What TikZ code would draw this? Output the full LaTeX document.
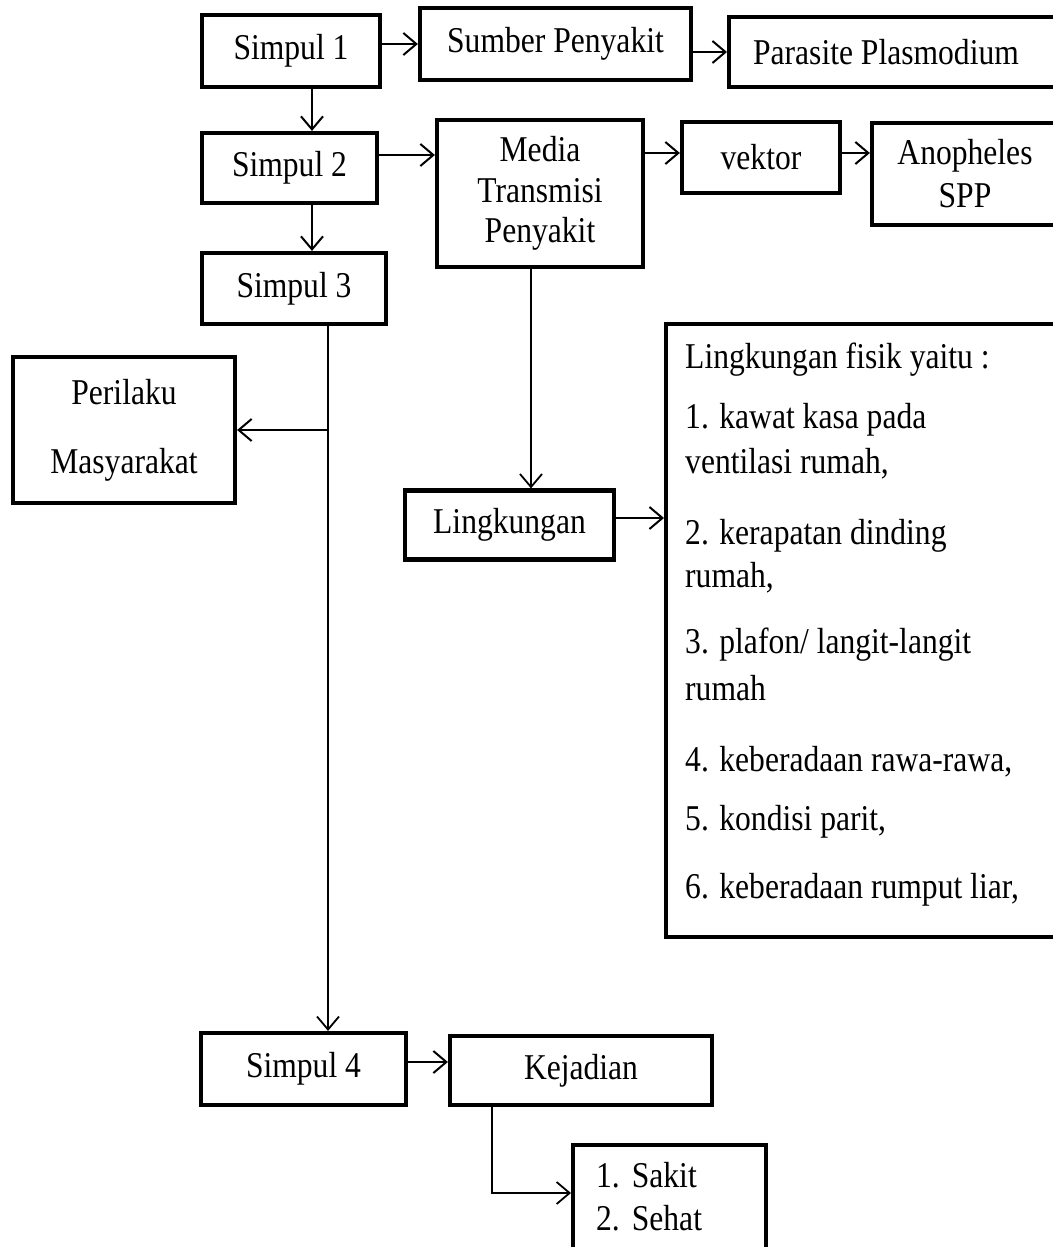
\documentclass[tikz,border=0pt]{standalone}
\usepackage{fontspec}
\setmainfont{Liberation Serif}[FakeStretch=0.87]
\usetikzlibrary{arrows.meta}
\begin{document}
\begin{tikzpicture}[x=1pt,y=-1pt,
  every node/.style={font=\fontsize{36.3pt}{40.5pt}\selectfont, inner sep=0pt},
  box/.style={draw, line width=4.2pt, align=center},
  arr/.style={line width=2pt, -{Straight Barb[length=13pt,width=22pt,line width=2pt]}},
  plain/.style={line width=1.8pt, -{Straight Barb[length=13pt,width=22pt,line width=1.8pt]}}]
\useasboundingbox (0,0) rectangle (1052,1247);
\fill[white] (0,0) rectangle (1052,1247);
% boxes
\node[box, minimum width=178pt, minimum height=72pt] (s1) at (291,51) {Simpul 1};
\node[box, minimum width=271pt, minimum height=72pt] (sumber) at (555.5,44) {Sumber Penyakit};
\node[box, anchor=west, minimum height=70pt] (parasite) at (727,52) {\hspace*{24pt}Parasite Plasmodium\hspace*{42pt}};
\node[box, minimum width=175pt, minimum height=70pt] (s2) at (289.5,168) {Simpul 2};
\node[box, minimum width=206pt, minimum height=147pt] (media) at (540,193.5) {Media\\Transmisi\\Penyakit};
\node[box, minimum width=158pt, minimum height=71pt] (vektor) at (761,157.5) {vektor};
\node[box, minimum width=186pt, minimum height=102pt] (anoph) at (965,174) {Anopheles\\[2.5pt]SPP};
\node[box, minimum width=184pt, minimum height=71pt] (s3) at (294,288.5) {Simpul 3};
\node[box, minimum width=222pt, minimum height=146pt] (perilaku) at (124,430) {Perilaku\\[28.5pt]Masyarakat};
\node[box, minimum width=209pt, minimum height=69pt] (lingk) at (509.5,525) {Lingkungan};
\node[box, anchor=north west, minimum width=396pt, minimum height=613pt] (fisik) at (664,322) {};
\node[box, minimum width=205pt, minimum height=72pt] (s4) at (303.5,1069) {Simpul 4};
\node[box, minimum width=262pt, minimum height=69pt] (kej) at (581,1070.5) {Kejadian};
\node[box, anchor=north west, minimum width=193pt, minimum height=125pt] (sakit) at (571,1143) {};
% texts in the large box
\begin{scope}[every node/.append style={anchor=west}]
\node (f0) at (685,360) {Lingkungan fisik yaitu :};
\node (f1) at (685,420) {1. kawat kasa pada};
\node (f1b) at (685,464) {ventilasi rumah,};
\node (f2) at (685,536) {2. kerapatan dinding};
\node (f2b) at (685,578) {rumah,};
\node (f3) at (685,645) {3. plafon/ langit-langit};
\node (f3b) at (685,688) {rumah};
\node (f4) at (685,762) {4. keberadaan rawa-rawa,};
\node (f5) at (685,822) {5. kondisi parit,};
\node (f6) at (685,890) {6. keberadaan rumput liar,};
\node (k1) at (596,1175) {1.\hspace{12pt}Sakit};
\node (k2) at (596,1218) {2.\hspace{12pt}Sehat};
\end{scope}
% connectors
\draw[arr] (s1.east |- 0,44) -- (sumber.west |- 0,44);
\draw[arr] (sumber.east |- 0,52) -- (parasite.west |- 0,52);
\draw[arr] (s1.south -| 312,0) -- (s2.north -| 312,0);
\draw[arr] (s2.east |- 0,155) -- (media.west |- 0,155);
\draw[arr] (media.east |- 0,153) -- (vektor.west |- 0,153);
\draw[arr] (vektor.east |- 0,153) -- (anoph.west |- 0,153);
\draw[arr] (s2.south -| 312,0) -- (s3.north -| 312,0);
\draw[plain] (s3.south -| 328,0) -- (s4.north -| 328,0);
\coordinate (br) at (328,430);
\draw[arr] (br) -- (perilaku.east |- br);
\draw[plain] (media.south -| 531,0) -- (lingk.north -| 531,0);
\draw[arr] (lingk.east |- 0,518) -- (fisik.west |- 0,518);
\draw[arr] (s4.east |- 0,1062) -- (kej.west |- 0,1062);
\coordinate (kb) at (492,1193);
\draw[plain] (kej.south -| kb) -- (kb) -- (sakit.west |- kb);
\end{tikzpicture}
\end{document}
